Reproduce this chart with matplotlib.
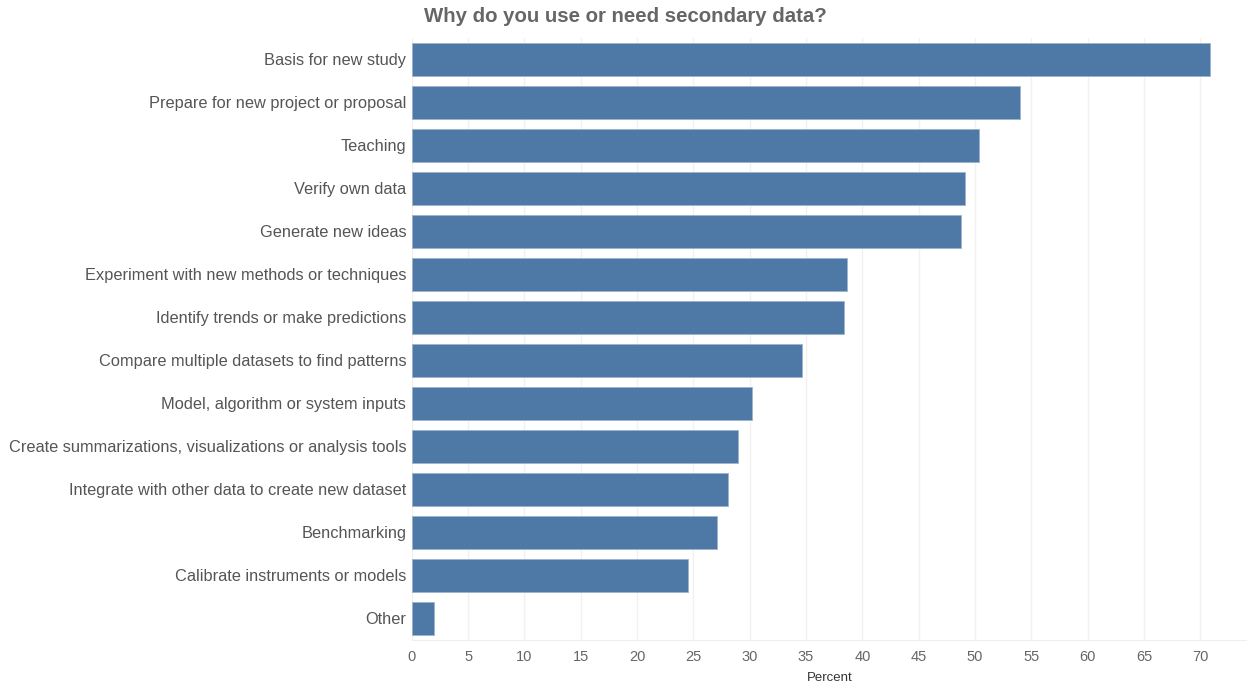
import matplotlib.pyplot as plt

reasons = [
    "Basis for new study",
    "Prepare for new project or proposal",
    "Teaching",
    "Verify own data",
    "Generate new ideas",
    "Experiment with new methods or techniques",
    "Identify trends or make predictions",
    "Compare multiple datasets to find patterns",
    "Model, algorithm or system inputs",
    "Create summarizations, visualizations or analysis tools",
    "Integrate with other data to create new dataset",
    "Benchmarking",
    "Calibrate instruments or models",
    "Other",
]
percent = [70.9, 54.0, 50.4, 49.1, 48.8, 38.6, 38.4, 34.6, 30.2, 29.0, 28.1, 27.1, 24.5, 2.0]
xticks = list(range(0, 75, 5))

plt.rcParams["font.family"] = ["Liberation Sans", "DejaVu Sans"]

fig = plt.figure(figsize=(12.47, 6.82), dpi=100)
ax = fig.add_axes([0.3302, 0.0616, 0.6698, 0.8827])

pos = list(range(len(reasons)))
ax.barh(pos, percent, height=0.77, color="#4e79a7", edgecolor="#9bb3cc", linewidth=0.6, zorder=3)
ax.set_ylim(len(reasons) - 0.5, -0.5)
ax.set_xlim(0, 74.15)

ax.set_yticks(pos)
ax.set_yticklabels(reasons, fontsize=11.8, color="#555555")
ax.set_xticks(xticks)
ax.set_xticklabels([str(t) for t in xticks], fontsize=10.5, color="#666666")
ax.tick_params(axis="y", length=0, pad=4)
ax.tick_params(axis="x", length=0, pad=7)

ax.grid(axis="x", color="#f1f1f1", linewidth=1, zorder=0)
for side in ["top", "right", "left"]:
    ax.spines[side].set_visible(False)
ax.spines["bottom"].set_color("#efefef")

ax.set_xlabel("Percent", fontsize=9.5, color="#333333", labelpad=6)

fig.text(424 / 1247, 1 - 17 / 682, "Why do you use or need secondary data?",
         fontsize=14.7, fontweight="bold", color="#666666", ha="left", va="center")

fig.savefig("out.png", dpi=100)
